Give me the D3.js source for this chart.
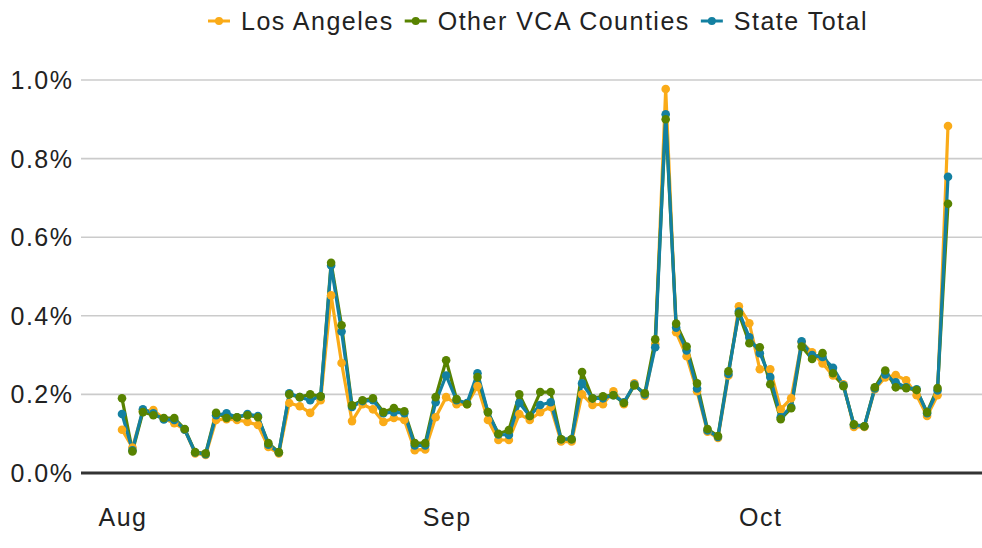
<!DOCTYPE html>
<html>
<head>
<meta charset="utf-8">
<script src="https://cdn.jsdelivr.net/npm/d3@7"></script>
<style>
  body { margin: 0; background: #fff; }
  svg { display: block; font-family: "Liberation Sans", Arial, Helvetica, sans-serif; }
  svg text { letter-spacing: 1.5px; }
</style>
</head>
<body>
<svg id="chart" width="982" height="548"></svg>
<script>
// daily share of ballots (percent), Aug 1 - Oct 19
const startDate = new Date(2020, 7, 1);
const endDate = new Date(2020, 9, 19);

const losAngeles = [
  0.11, 0.065, 0.157, 0.16, 0.138, 0.127, 0.11, 0.05, 0.046, 0.135,
  0.137, 0.135, 0.13, 0.122, 0.066, 0.05, 0.178, 0.17, 0.153, 0.185,
  0.452, 0.28, 0.132, 0.175, 0.162, 0.13, 0.14, 0.135, 0.058, 0.06,
  0.142, 0.193, 0.175, 0.175, 0.221, 0.135, 0.084, 0.084, 0.15, 0.135,
  0.155, 0.168, 0.08, 0.08, 0.2, 0.173, 0.175, 0.208, 0.175, 0.228,
  0.196, 0.328, 0.977, 0.358, 0.297, 0.208, 0.105, 0.089, 0.248, 0.424,
  0.381, 0.264, 0.264, 0.162, 0.19, 0.333, 0.307, 0.279, 0.248, 0.226,
  0.117, 0.117, 0.213, 0.243, 0.249, 0.236, 0.198, 0.145, 0.198, 0.883
];
const otherVca = [
  0.19, 0.055, 0.155, 0.147, 0.14, 0.14, 0.112, 0.053, 0.05, 0.153,
  0.14, 0.142, 0.147, 0.142, 0.076, 0.053, 0.2, 0.193, 0.2, 0.195,
  0.535, 0.376, 0.172, 0.185, 0.19, 0.155, 0.165, 0.157, 0.076, 0.076,
  0.193, 0.287, 0.188, 0.175, 0.244, 0.155, 0.1, 0.109, 0.2, 0.145,
  0.206, 0.206, 0.086, 0.086, 0.257, 0.19, 0.195, 0.198, 0.178, 0.223,
  0.203, 0.34, 0.9, 0.38, 0.322, 0.228, 0.112, 0.094, 0.259, 0.406,
  0.33, 0.32, 0.226, 0.137, 0.165, 0.322, 0.29, 0.305, 0.254, 0.221,
  0.124, 0.119, 0.218, 0.261, 0.218, 0.216, 0.211, 0.155, 0.216, 0.685
];
const stateTotal = [
  0.15, 0.058, 0.162, 0.152, 0.136, 0.135, 0.11, 0.052, 0.048, 0.147,
  0.152, 0.142, 0.15, 0.145, 0.072, 0.052, 0.203, 0.193, 0.185, 0.195,
  0.528, 0.36, 0.168, 0.183, 0.185, 0.152, 0.155, 0.152, 0.07, 0.07,
  0.18, 0.248, 0.185, 0.178, 0.254, 0.155, 0.098, 0.097, 0.178, 0.145,
  0.173, 0.18, 0.086, 0.086, 0.228, 0.19, 0.19, 0.198, 0.18, 0.225,
  0.2, 0.32, 0.913, 0.37, 0.312, 0.215, 0.108, 0.092, 0.252, 0.411,
  0.345, 0.305, 0.244, 0.142, 0.168, 0.335, 0.3, 0.295, 0.268, 0.223,
  0.122, 0.119, 0.215, 0.251, 0.231, 0.218, 0.213, 0.152, 0.21, 0.754
];

const seriesNames = ["Los Angeles", "Other VCA Counties", "State Total"];
const seriesColors = ["#FAAB18", "#588300", "#1380A1"];
const yTicks = [0, 0.2, 0.4, 0.6, 0.8, 1.0];
const monthTicks = [new Date(2020, 7, 1), new Date(2020, 8, 1), new Date(2020, 9, 1)];

const dates = d3.timeDay.range(startDate, d3.timeDay.offset(endDate, 1));
const series = [losAngeles, otherVca, stateTotal].map((vals, k) => ({
  name: seriesNames[k],
  color: seriesColors[k],
  points: vals.map((v, i) => ({ date: dates[i], value: v }))
}));

const svg = d3.select("#chart");
const textColor = "#222222";
const fontSize = 25;

const x = d3.scaleTime().domain([startDate, endDate]).range([122, 948]);
const y = d3.scaleLinear().domain([0, 1]).range([473, 80]);
const gridLeft = 81, gridRight = 982;

// ── Grid + y labels ──
const yAxis = svg.append("g");
yAxis.selectAll("line.grid")
  .data(yTicks.filter(d => d > 0))
  .join("line")
  .attr("x1", gridLeft).attr("x2", gridRight)
  .attr("y1", d => y(d)).attr("y2", d => y(d))
  .attr("stroke", "#cbcbcb").attr("stroke-width", 1.6);

yAxis.selectAll("text")
  .data(yTicks)
  .join("text")
  .attr("x", 73.5)
  .attr("y", d => y(d))
  .attr("dy", "0.36em")
  .attr("text-anchor", "end")
  .attr("font-size", fontSize)
  .attr("fill", textColor)
  .text(d => d.toFixed(1) + "%");

// ── x labels ──
svg.append("g").selectAll("text")
  .data(monthTicks)
  .join("text")
  .attr("x", d => x(d) + 1)
  .attr("y", 526)
  .attr("text-anchor", "middle")
  .attr("font-size", fontSize)
  .attr("fill", textColor)
  .text(d3.timeFormat("%b"));

// ── baseline ──
svg.append("line")
  .attr("x1", gridLeft).attr("x2", gridRight)
  .attr("y1", y(0)).attr("y2", y(0))
  .attr("stroke", "#333333").attr("stroke-width", 3);

// ── lines then points ──
const line = d3.line().x(d => x(d.date)).y(d => y(d.value));

svg.append("g").selectAll("path")
  .data(series)
  .join("path")
  .attr("d", d => line(d.points))
  .attr("fill", "none")
  .attr("stroke", d => d.color)
  .attr("stroke-width", 3.2)
  .attr("stroke-linejoin", "round");

const dotOrder = [series[0], series[2], series[1]];
svg.append("g").selectAll("g")
  .data(dotOrder)
  .join("g")
  .attr("fill", d => d.color)
  .selectAll("circle")
  .data(d => d.points)
  .join("circle")
  .attr("cx", d => x(d.date))
  .attr("cy", d => y(d.value))
  .attr("r", 4.3);

// ── legend ──
const legend = svg.append("g");
let lx = 208;
series.forEach((s) => {
  const item = legend.append("g").attr("transform", `translate(${lx},21)`);
  item.append("line")
    .attr("x1", 0).attr("x2", 22)
    .attr("stroke", s.color).attr("stroke-width", 3);
  item.append("circle").attr("cx", 11).attr("r", 4).attr("fill", s.color);
  const t = item.append("text")
    .attr("x", 33)
    .attr("dy", "0.36em")
    .attr("font-size", fontSize)
    .attr("fill", textColor)
    .text(s.name);
  lx += 33 + t.node().getComputedTextLength() + 11;
});
</script>
</body>
</html>
